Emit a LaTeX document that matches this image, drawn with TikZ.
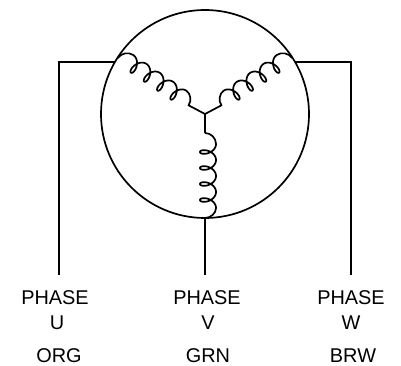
\documentclass[tikz,border=0pt]{standalone}
\usepackage{fontspec}
\setmainfont{Liberation Sans}
\newcommand{\coilshape}{(0,0) .. controls (0,6) and (5,11) .. (11,11)
  -- plot[domain=-180:1260,samples=200] ({19+\x/22.5-5.2*sin(\x)},{3-8*cos(\x)})
  .. controls (80,11) and (85,6) .. (85,0)}
\tikzset{
  wire/.style={line width=1.7pt,line join=miter},
  coilline/.style={line width=1.7pt,line join=round},
  lab/.style={anchor=base,inner sep=0pt,outer sep=0pt,font=\fontsize{19.9}{20}\selectfont},
  rotor/.style={circle,draw,line width=1.7pt,inner sep=0pt,outer sep=0pt,minimum size=208pt}
}
\begin{document}
\begin{tikzpicture}[x=1pt,y=-1pt]
\useasboundingbox (0,0) rectangle (401,366);
\node[rotor] (motor) at (205,114) {};
\coordinate (hub) at (205,114);
\coordinate (armU) at (188,105);
\coordinate (armW) at (222,105);
\coordinate (armV) at (205,133);
\coordinate (wireUin) at (115,62);
\coordinate (wireWin) at (295,62);
\coordinate (wireVin) at (205,218);
\coordinate (cornerU) at (59,62);
\coordinate (cornerW) at (351,62);
\coordinate (endU) at (59,275);
\coordinate (endV) at (205,275);
\coordinate (endW) at (351,275);
\draw[wire] (armU) -- (hub) -- (armW);
\draw[wire] (hub) -- (armV);
\draw[wire] (wireUin) -- (cornerU) -- (endU);
\draw[wire] (wireWin) -- (cornerW) -- (endW);
\draw[wire] (wireVin) -- (endV);
\begin{scope}[shift={(118,58)},x={(.83pt,-.558pt)},y={(.558pt,.83pt)}]
  \draw[coilline] \coilshape;
\end{scope}
\begin{scope}[shift={(292,58)},x={(-.83pt,-.558pt)},y={(-.558pt,.83pt)}]
  \draw[coilline] \coilshape;
\end{scope}
\begin{scope}[shift={(205,133)},x={(0pt,-1pt)},y={(1pt,0pt)}]
  \draw[coilline] \coilshape;
\end{scope}
\node[lab] (pu) at (55,304) {PHASE};
\node[lab] (u) at (57,329) {U};
\node[lab] (org) at (59,362) {ORG};
\node[lab] (pv) at (207,304) {PHASE};
\node[lab] (v) at (208,329) {V};
\node[lab] (grn) at (208,362) {GRN};
\node[lab] (pw) at (351,304) {PHASE};
\node[lab] (w) at (351,329) {W};
\node[lab] (brw) at (353,362) {BRW};
\end{tikzpicture}
\end{document}
